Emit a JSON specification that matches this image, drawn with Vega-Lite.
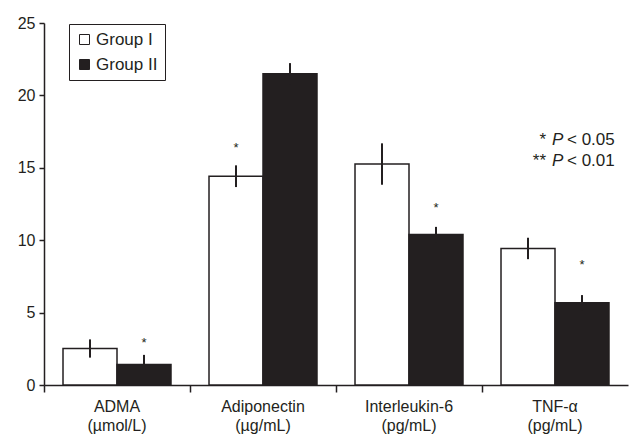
{
  "$schema": "https://vega.github.io/schema/vega-lite/v6.json",
  "width": 584,
  "height": 362,
  "autosize": {"type": "none"},
  "padding": {"left": 44, "top": 23, "right": 3, "bottom": 51},
  "background": "white",
  "config": {
    "view": {"stroke": null},
    "font": "Liberation Sans",
    "axis": {"labelFont": "Liberation Sans", "labelColor": "#231f20", "domainColor": "#231f20", "tickColor": "#231f20", "grid": false, "title": null}
  },
  "datasets": {
    "bars": [
      {"cat": "ADMA|(µmol/L)", "group": "Group I", "mean": 2.52, "lo": 1.89, "hi": 3.15},
      {"cat": "ADMA|(µmol/L)", "group": "Group II", "mean": 1.42, "lo": 0.76, "hi": 2.08},
      {"cat": "Adiponectin|(µg/mL)", "group": "Group I", "mean": 14.42, "lo": 13.67, "hi": 15.17},
      {"cat": "Adiponectin|(µg/mL)", "group": "Group II", "mean": 21.5, "lo": 20.77, "hi": 22.23},
      {"cat": "Interleukin-6|(pg/mL)", "group": "Group I", "mean": 15.26, "lo": 13.83, "hi": 16.69},
      {"cat": "Interleukin-6|(pg/mL)", "group": "Group II", "mean": 10.39, "lo": 9.86, "hi": 10.92},
      {"cat": "TNF-α|(pg/mL)", "group": "Group I", "mean": 9.43, "lo": 8.69, "hi": 10.17},
      {"cat": "TNF-α|(pg/mL)", "group": "Group II", "mean": 5.68, "lo": 5.15, "hi": 6.21}
    ],
    "stars": [
      {"cat": "ADMA|(µmol/L)", "group": "Group II", "y": 2.92, "label": "*"},
      {"cat": "Adiponectin|(µg/mL)", "group": "Group I", "y": 16.4, "label": "*"},
      {"cat": "Interleukin-6|(pg/mL)", "group": "Group II", "y": 12.25, "label": "*"},
      {"cat": "TNF-α|(pg/mL)", "group": "Group II", "y": 8.3, "label": "*"}
    ],
    "notes": [
      {"cat": "TNF-α|(pg/mL)", "y": 16.93, "stars": "*", "p": "P", "rest": "< 0.05"},
      {"cat": "TNF-α|(pg/mL)", "y": 15.45, "stars": "**", "p": "P", "rest": "< 0.01"}
    ]
  },
  "encoding": {
    "x": {
      "field": "cat", "type": "nominal", "sort": null,
      "scale": {"domain": ["ADMA|(µmol/L)", "Adiponectin|(µg/mL)", "Interleukin-6|(pg/mL)", "TNF-α|(pg/mL)"], "paddingInner": 0, "paddingOuter": 0},
      "axis": {"labelAngle": 0, "labelExpr": "split(datum.label, '|')", "labelFontSize": 16, "labelLineHeight": 19, "labelPadding": 6, "tickSize": 7, "tickWidth": 1.5, "domainWidth": 1.5, "bandPosition": 0, "labelBound": false, "labelOverlap": false}
    }
  },
  "layer": [
    {
      "data": {"name": "bars"},
      "mark": {"type": "bar", "stroke": "#231f20", "strokeWidth": 1.5},
      "encoding": {
        "xOffset": {"field": "group", "type": "nominal", "scale": {"paddingInner": 0, "paddingOuter": 0.352}},
        "y": {"field": "mean", "type": "quantitative", "scale": {"domain": [0, 25], "nice": false},
          "axis": {"values": [0, 5, 10, 15, 20, 25], "labelFontSize": 16, "tickSize": 5, "tickWidth": 1.5, "domainWidth": 1.5, "labelPadding": 4}},
        "fill": {"field": "group", "type": "nominal",
          "scale": {"domain": ["Group I", "Group II"], "range": ["#ffffff", "#231f20"]},
          "legend": {"title": null, "orient": "none", "legendX": 25, "legendY": 1, "symbolType": "square", "symbolSize": 100, "symbolStrokeColor": "#231f20", "symbolStrokeWidth": 1, "labelFontSize": 17, "labelColor": "#231f20", "labelFont": "Liberation Sans", "labelOffset": 3, "rowPadding": 7, "padding": 7, "strokeColor": "#231f20", "fillColor": "white"}}
      }
    },
    {
      "data": {"name": "bars"},
      "mark": {"type": "rule", "stroke": "#231f20", "strokeWidth": 2},
      "encoding": {
        "xOffset": {"field": "group", "type": "nominal"},
        "y": {"field": "lo", "type": "quantitative"},
        "y2": {"field": "hi"}
      }
    },
    {
      "data": {"name": "stars"},
      "mark": {"type": "text", "fontSize": 13, "color": "#231f20", "baseline": "middle", "align": "center"},
      "encoding": {
        "xOffset": {"field": "group", "type": "nominal"},
        "y": {"field": "y", "type": "quantitative"},
        "text": {"field": "label"}
      }
    },
    {
      "data": {"name": "notes"},
      "mark": {"type": "text", "fontSize": 17, "color": "#231f20", "baseline": "middle", "align": "right", "dx": -9},
      "encoding": {"y": {"field": "y", "type": "quantitative"}, "text": {"field": "stars"}}
    },
    {
      "data": {"name": "notes"},
      "mark": {"type": "text", "fontSize": 17, "fontStyle": "italic", "color": "#231f20", "baseline": "middle", "align": "left", "dx": -3},
      "encoding": {"y": {"field": "y", "type": "quantitative"}, "text": {"field": "p"}}
    },
    {
      "data": {"name": "notes"},
      "mark": {"type": "text", "fontSize": 17, "color": "#231f20", "baseline": "middle", "align": "left", "dx": 12},
      "encoding": {"y": {"field": "y", "type": "quantitative"}, "text": {"field": "rest"}}
    }
  ]
}
